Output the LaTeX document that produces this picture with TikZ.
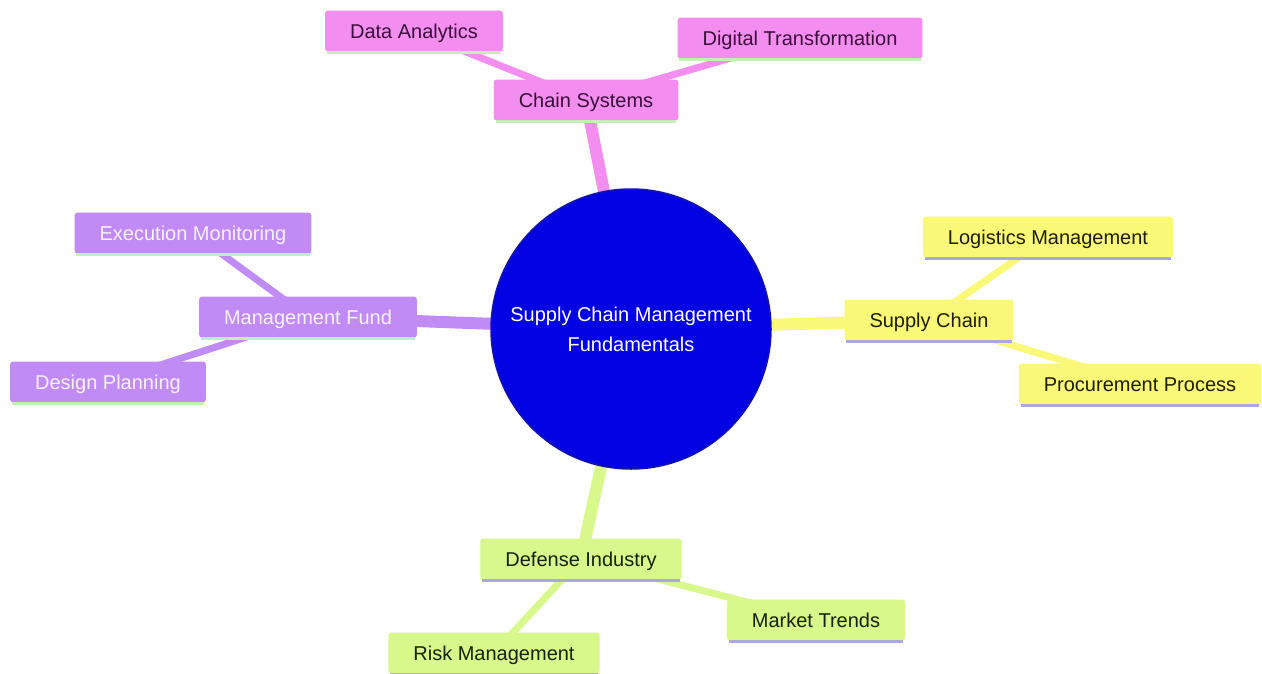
\documentclass[tikz,border=0pt]{standalone}
\usepackage{fontspec}
\setmainfont{Liberation Sans}
\usetikzlibrary{backgrounds}
\definecolor{pinkF}{HTML}{F48DF0}
\definecolor{pinkT}{HTML}{3A0F3A}
\definecolor{purpF}{HTML}{C08BF5}
\definecolor{purpT}{HTML}{F7F2FF}
\definecolor{yelF}{HTML}{F9F977}
\definecolor{yelT}{HTML}{1E1E0A}
\definecolor{limeF}{HTML}{D8F88C}
\definecolor{limeT}{HTML}{16220A}
\definecolor{coreF}{HTML}{0202E2}
\definecolor{coreD}{HTML}{1414A8}
\definecolor{greenB}{HTML}{C4F0B6}
\definecolor{lavB}{HTML}{AAA8E2}
\begin{document}
\begin{tikzpicture}[x=1pt,y=-1pt,
  box/.style={rectangle, rounded corners=3pt, inner xsep=25pt, inner ysep=0pt,
    minimum height=41pt, text height=14.3pt, text depth=0pt,
    font=\fontsize{20}{24}\selectfont},
  pinkbox/.style={box, fill=pinkF, text=pinkT},
  purpbox/.style={box, fill=purpF, text=purpT},
  yelbox/.style={box, fill=yelF, text=yelT},
  limebox/.style={box, fill=limeF, text=limeT},
  corenode/.style={circle, minimum size=280pt, inner sep=0pt, fill=coreF, draw=coreD,
    line width=1.5pt, text=white, align=center, font=\fontsize{20}{30}\selectfont},
  trunk/.style={line width=12pt},
  twig/.style={line width=7pt},
  underline/.style={line width=3pt}
]
\useasboundingbox (0,0) rectangle (1262,673);

\node[corenode] (core) at (631,329) {Supply Chain Management\\Fundamentals};

\node[pinkbox] (cs) at (586,100) {Chain Systems};
\node[pinkbox] (da) at (414,31) {Data Analytics};
\node[pinkbox] (dt) at (800,38) {Digital Transformation};

\node[purpbox] (mf) at (308,317) {Management Fund};
\node[purpbox] (em) at (193,233) {Execution Monitoring};
\node[purpbox] (dp) at (108,382) {Design Planning};

\node[yelbox] (sc) at (929,320) {Supply Chain};
\node[yelbox] (lm) at (1048,237) {Logistics Management};
\node[yelbox] (pp) at (1140,384) {Procurement Process};

\node[limebox] (di) at (581,559) {Defense Industry};
\node[limebox] (mt) at (816,620) {Market Trends};
\node[limebox] (rm) at (494,653) {Risk Management};

\foreach \n in {cs,da,dt,mf,em,dp}{
  \draw[underline, greenB] ([xshift=2pt,yshift=-1pt]\n.south west) -- ([xshift=-2pt,yshift=-1pt]\n.south east);
}
\foreach \n in {sc,lm,pp,di,mt,rm}{
  \draw[underline, lavB] ([xshift=2pt,yshift=-1pt]\n.south west) -- ([xshift=-2pt,yshift=-1pt]\n.south east);
}

\begin{pgfonlayer}{background}
\fill[white] (0,0) rectangle (1262,673);
\draw[trunk, pinkF] (core.center) -- (cs.center);
\draw[twig, pinkF] (cs.center) -- (da.center);
\draw[twig, pinkF] (cs.center) -- (dt.center);
\draw[trunk, purpF] (core.center) -- (mf.center);
\draw[twig, purpF] (mf.center) -- (em.center);
\draw[twig, purpF] (mf.center) -- (dp.center);
\draw[trunk, yelF] (core.center) -- (sc.center);
\draw[twig, yelF] (sc.center) -- (lm.center);
\draw[twig, yelF] (sc.center) -- (pp.center);
\draw[trunk, limeF] (core.center) -- (di.center);
\draw[twig, limeF] (di.center) -- (mt.center);
\draw[twig, limeF] (di.center) -- (rm.center);
\end{pgfonlayer}
\end{tikzpicture}
\end{document}
